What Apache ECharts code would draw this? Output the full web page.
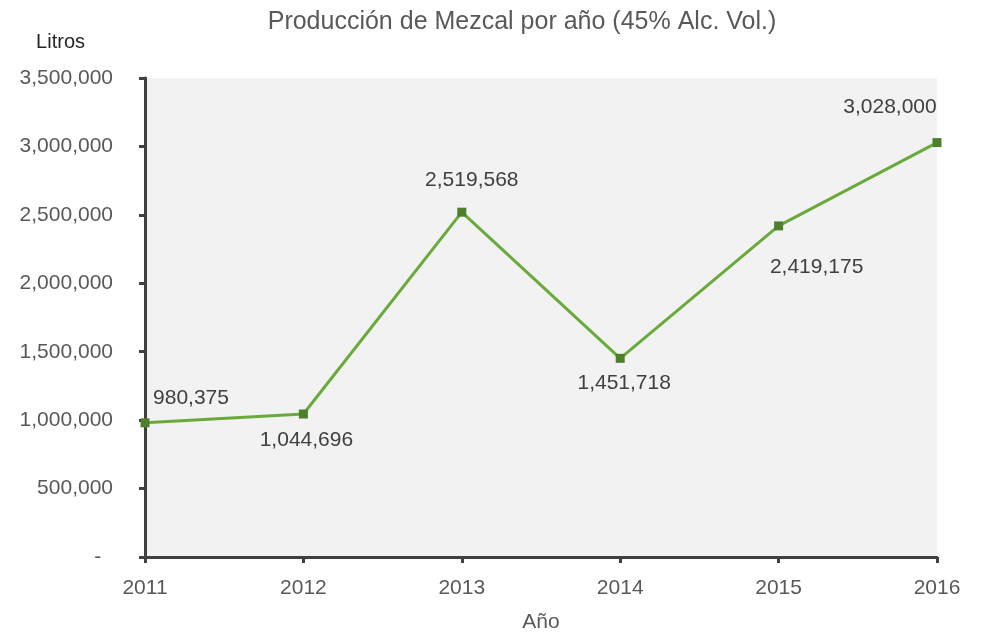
<!DOCTYPE html>
<html>
<head>
<meta charset="utf-8">
<script src="https://cdn.jsdelivr.net/npm/echarts@6/dist/echarts.min.js"></script>
<style>
  html, body { margin: 0; padding: 0; background: #fff; }
  #main { width: 990px; height: 634px; }
</style>
</head>
<body>
<div id="main"></div>
<script>
const years = ['2011', '2012', '2013', '2014', '2015', '2016'];
const litros = [980375, 1044696, 2519568, 1451718, 2419175, 3028000];
// where each value label sits relative to its point
const labelPos = ['top', 'bottom', 'top', 'bottom', 'bottom', 'top'];
const labelOffset = [[46, -2], [3, 3], [10, -9], [4, 2], [38, 18], [-47, -12]];

const fmt = v => v.toLocaleString('en-US');

const chartDom = document.getElementById('main');
const myChart = echarts.init(chartDom);

const option = {
  animation: false,
  textStyle: { fontFamily: 'Liberation Sans, Arial, sans-serif' },
  title: {
    text: 'Producción de Mezcal por año (45% Alc. Vol.)',
    left: 517,
    top: 5,
    textAlign: 'center',
    textStyle: { fontSize: 25, fontWeight: 'normal', color: '#595959' }
  },
  grid: {
    left: 145, right: 53, top: 78, bottom: 77,
    outerBoundsMode: 'none',
    containLabel: false,
    show: true, backgroundColor: '#f2f2f2', borderWidth: 0
  },
  xAxis: {
    type: 'category',
    data: years,
    boundaryGap: false,
    name: 'Año',
    nameLocation: 'middle',
    nameGap: 55,
    nameTextStyle: { fontSize: 21, color: '#595959' },
    axisLine: { lineStyle: { color: '#404040', width: 3 } },
    axisTick: { show: true, alignWithLabel: true, length: 6, lineStyle: { color: '#404040', width: 3 } },
    axisLabel: { fontSize: 21, color: '#595959', margin: 21 },
    splitLine: { show: false }
  },
  yAxis: {
    type: 'value',
    min: 0,
    max: 3500000,
    interval: 500000,
    name: 'Litros',
    nameLocation: 'end',
    nameGap: 26,
    nameTextStyle: { fontSize: 20, color: '#262626', align: 'right', padding: [0, 60, 0, 0] },
    axisLine: { show: true, lineStyle: { color: '#404040', width: 3 } },
    axisTick: { show: true, length: 6, lineStyle: { color: '#404040', width: 3 } },
    axisLabel: {
      fontSize: 21, color: '#595959', margin: 32,
      formatter: v => v === 0 ? '-  ' : fmt(v)
    },
    splitLine: { show: false }
  },
  series: [{
    type: 'line',
    data: litros.map((v, i) => ({
      value: v,
      label: { position: labelPos[i], offset: labelOffset[i] }
    })),
    symbol: 'rect',
    symbolSize: 9,
    lineStyle: { color: '#6aaa3c', width: 3 },
    itemStyle: { color: '#4e7f2c' },
    label: {
      show: true,
      fontSize: 21,
      color: '#404040',
      distance: 8,
      formatter: p => fmt(p.value)
    }
  }]
};

myChart.setOption(option);
</script>
</body>
</html>
